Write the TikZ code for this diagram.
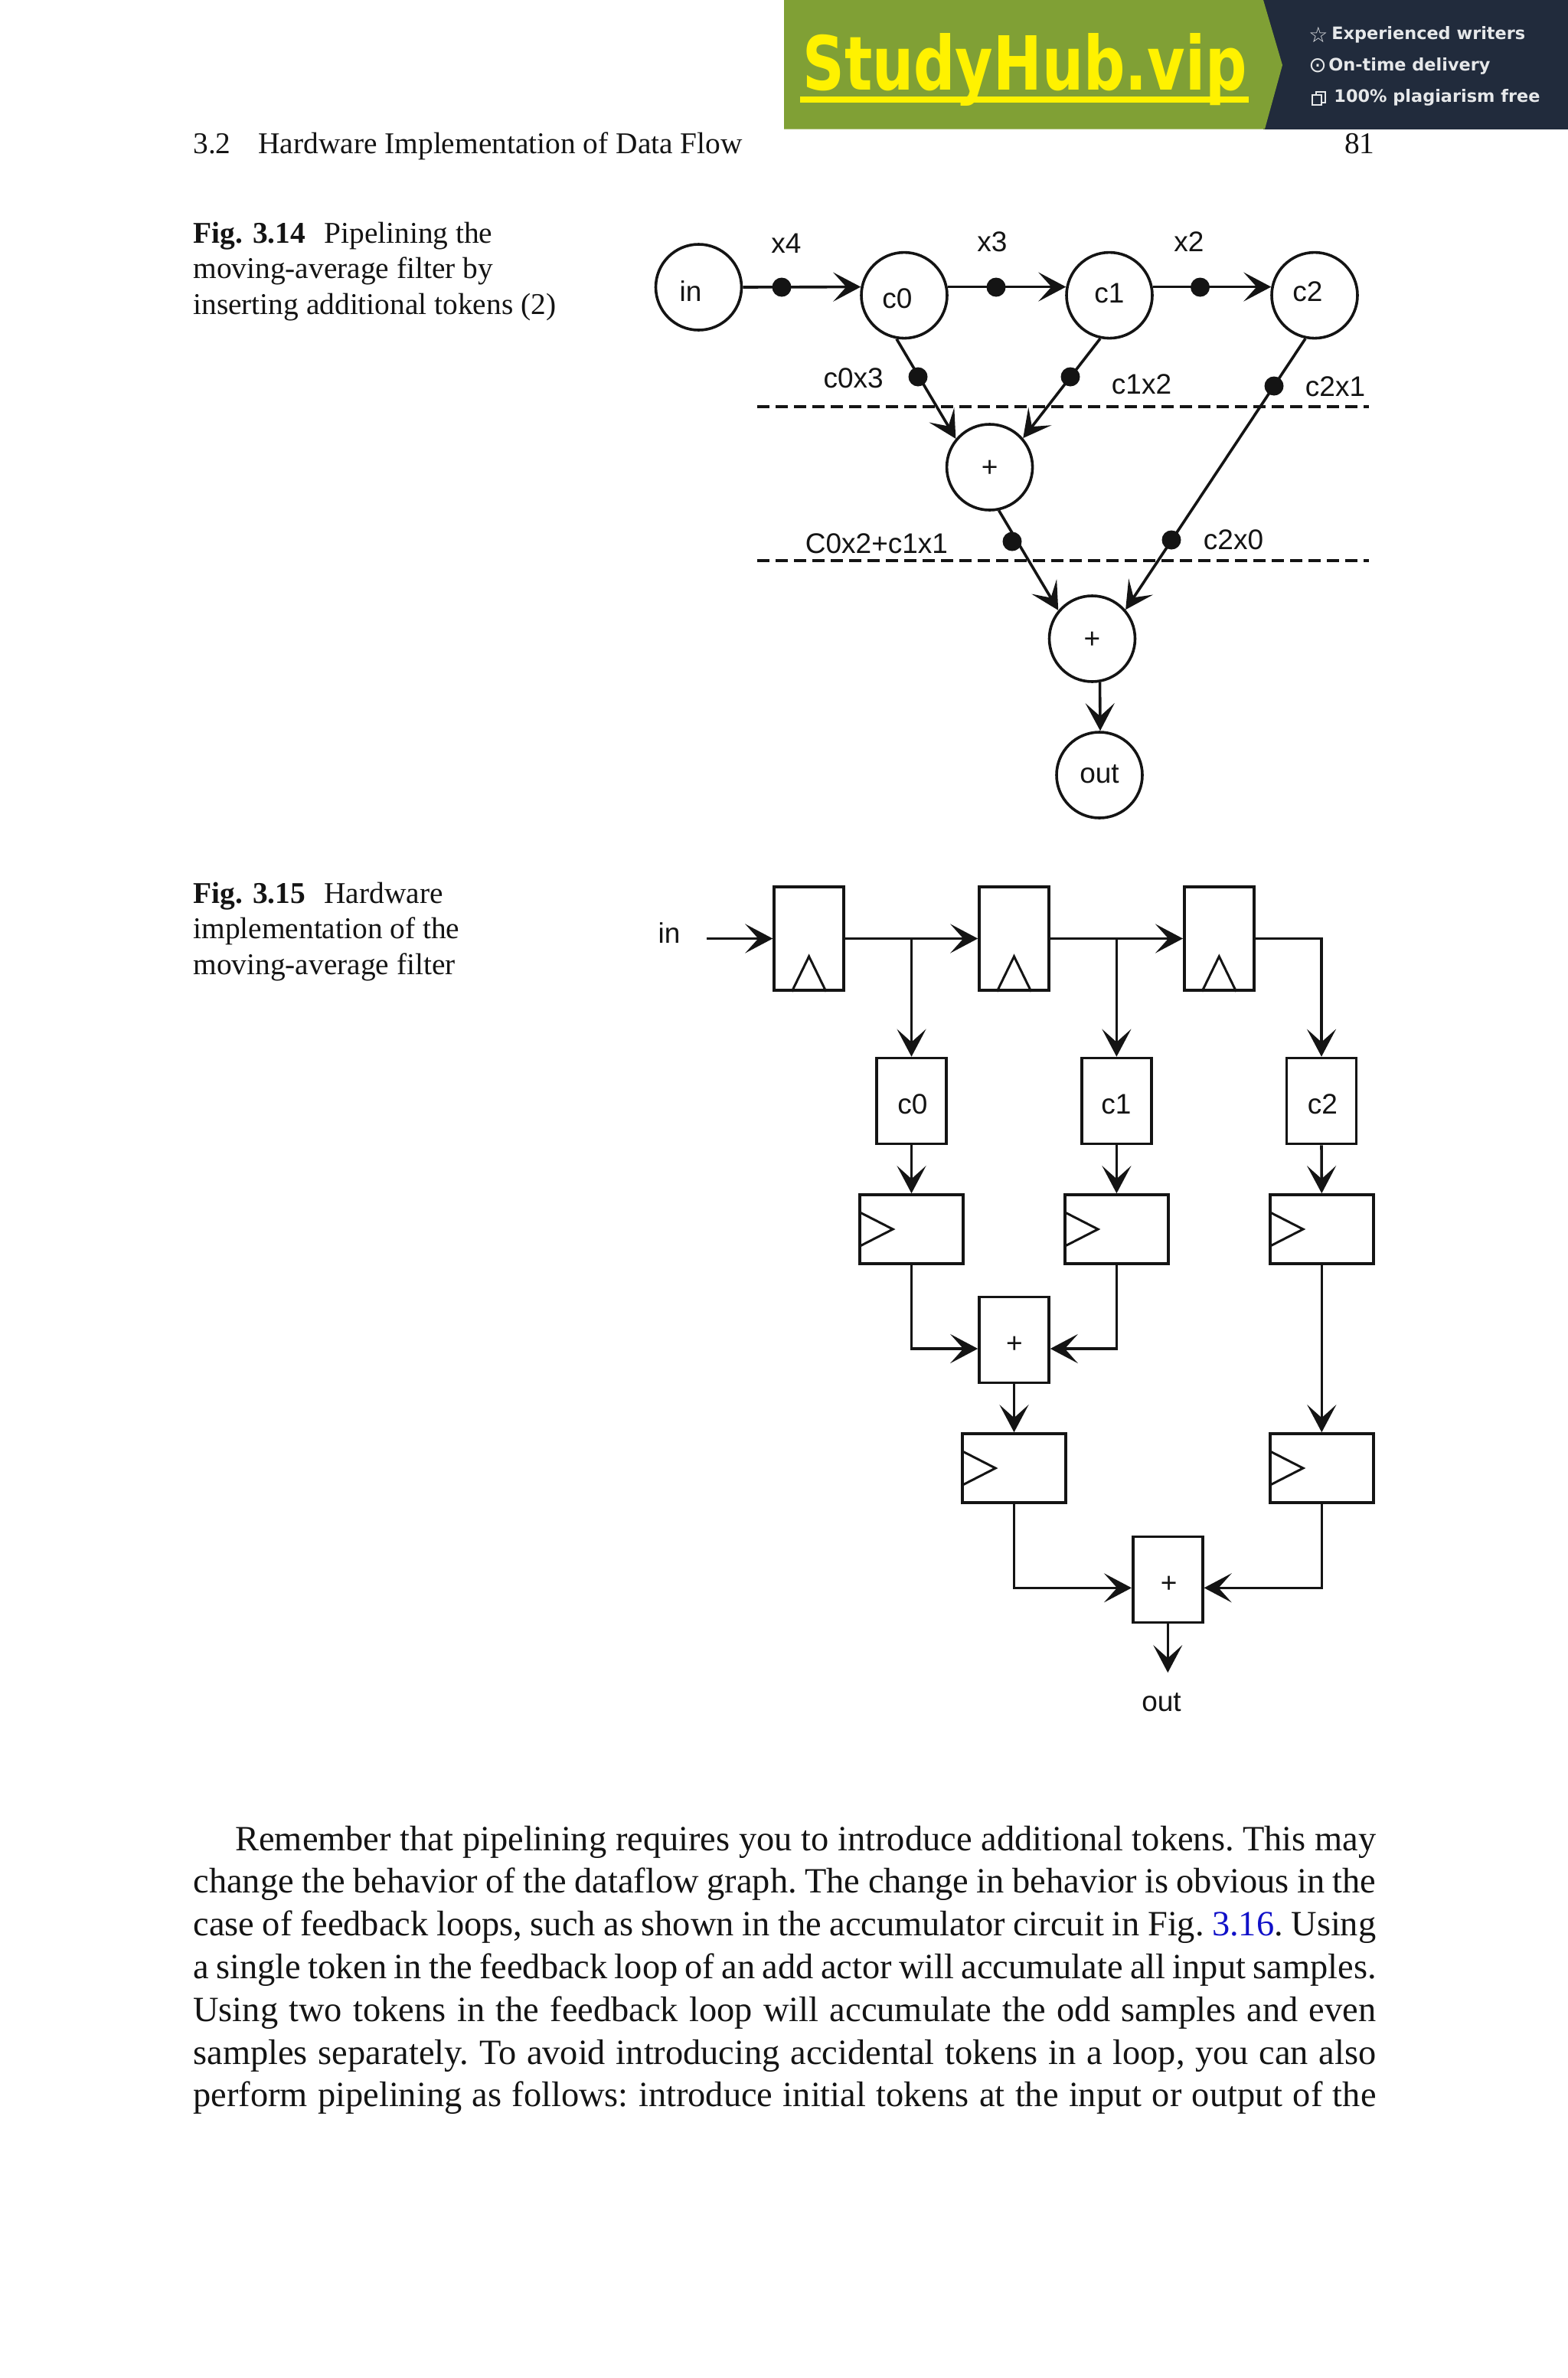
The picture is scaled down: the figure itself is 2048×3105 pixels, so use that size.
\documentclass[tikz,border=0pt]{standalone}
\usepackage{fontspec}
\setmainfont{Liberation Serif}
\newfontfamily\arialf{Liberation Sans}
\newfontfamily\dejan{DejaVu Sans}
\newcommand{\dejab}{\dejan\bfseries}
\usetikzlibrary{arrows.meta}
\definecolor{bgreen}{HTML}{80A035}
\definecolor{bdark}{HTML}{212B3C}
\definecolor{byellow}{HTML}{FFF200}
\definecolor{blight}{HTML}{E6E8EA}
\definecolor{linkblue}{HTML}{1010C8}
\definecolor{ink}{HTML}{141414}
\newcommand{\J}[1]{\hbox to 772.5pt{\frenchspacing #1}}
\tikzset{
  wire/.style={draw=ink,line width=1.8pt},
  arr/.style={wire,-{Stealth[length=18pt,width=19pt,inset=8.5pt]}},
  actor/.style={circle,draw=ink,line width=1.8pt,minimum size=56pt,inner sep=0pt,fill=none},
  tok/.style={circle,fill=ink,minimum size=12.5pt,inner sep=0pt},
  lab/.style={font=\arialf\fontsize{18.5pt}{20pt}\selectfont,text=ink,inner sep=0pt},
  plusl/.style={font=\arialf\fontsize{18.5pt}{20pt}\selectfont,text=ink,inner sep=0pt},
  cut/.style={draw=ink,line width=1.6pt,dash pattern=on 8pt off 4pt},
  ffv/.style={rectangle,draw=ink,line width=1.8pt,minimum width=45.5pt,minimum height=67.5pt,inner sep=0pt},
  ffh/.style={rectangle,draw=ink,line width=1.8pt,minimum width=67.5pt,minimum height=45pt,inner sep=0pt},
  opb/.style={rectangle,draw=ink,line width=1.8pt,minimum width=45.5pt,minimum height=56pt,inner sep=0pt},
  clk/.style={draw=ink,line width=1.5pt},
  captext/.style={font=\fontsize{19.7pt}{23.2pt}\selectfont,text=ink,inner sep=0pt,anchor=base west},
  bodyl/.style={font=\fontsize{23.2pt}{27.9pt}\selectfont,text=ink,inner sep=0pt,anchor=base west},
  bann/.style={font=\dejab\fontsize{11.2pt}{14pt}\selectfont,text=blight,inner sep=0pt,anchor=west},
  bicon/.style={font=\dejan\fontsize{14pt}{16pt}\selectfont,text=blight,inner sep=0pt,anchor=center},
}
\begin{document}
\begin{tikzpicture}[x=0.5pt,y=-0.5pt]
\useasboundingbox[fill=white] (0,0) rectangle (2048,3105);
% banner
\fill[bdark] (1650,0) rectangle (2048,168.5);
\fill[bgreen] (1024,0) -- (1650,0) -- (1675,85) -- (1652,168.5) -- (1024,168.5) -- cycle;
\node[inner sep=0pt,anchor=base west,text=byellow] (brand) at (1048,117) {\resizebox{290pt}{37pt}{\dejab\fontsize{48pt}{50pt}\selectfont StudyHub.vip}};
\fill[byellow] (1045,126) rectangle (1631,134);
\node[bicon] (s1) at (1722,45) {☆};
\node[bann] (t1) at (1739,45) {Experienced writers};
\node[bicon] (s2) at (1721,86) {⊙};
\node[bann] (t2) at (1735,86) {On-time delivery};
\draw[blight,line width=0.9pt] (1719,120) rectangle (1731,134);
\draw[blight,line width=0.9pt,fill=bdark] (1714,124) rectangle (1726,137);
\node[bann] (t3) at (1742,127) {100\% plagiarism free};
% header
\node[captext] (hd1) at (252,200) {3.2};
\node[captext] (hd2) at (337,200) {Hardware Implementation of Data Flow};
\node[captext,anchor=base east] (pg) at (1796,200) {81};
% captions
\node[captext] (c14a) at (252,317) {\textbf{Fig. 3.14}\hspace{0.62em}Pipelining the};
\node[captext] (c14b) at (252,363) {moving-average filter by};
\node[captext] (c14c) at (252,410) {inserting additional tokens (2)};
\node[captext] (c15a) at (252,1179) {\textbf{Fig. 3.15}\hspace{0.62em}Hardware};
\node[captext] (c15b) at (252,1225) {implementation of the};
\node[captext] (c15c) at (252,1272) {moving-average filter};
% Fig 3.14
\node[actor] (in) at (912.5,375) {};
\node[actor] (c0) at (1181,385.6) {};
\node[actor] (c1) at (1449,385.6) {};
\node[actor] (c2) at (1717,385.6) {};
\node[actor] (p1) at (1292.6,610) {};
\node[actor] (p2) at (1426.5,834) {};
\node[actor] (o) at (1436,1012) {};
\node[lab] (lin) at (902,380) {in};
\node[lab] (lc0) at (1172,390) {c0};
\node[lab] (lc1) at (1449,382.5) {c1};
\node[lab] (lc2) at (1708,381) {c2};
\node[plusl] (lp1) at (1292.6,612) {+};
\node[plusl] (lp2) at (1426.5,836) {+};
\node[lab] (lo) at (1436,1011) {out};
\node[lab] (x4) at (1027,318) {x4};
\node[lab] (x3) at (1296,315.5) {x3};
\node[lab] (x2) at (1553,315.5) {x2};
\node[lab] (c0x3) at (1114.6,494) {c0x3};
\node[lab] (c1x2) at (1491,501.7) {c1x2};
\node[lab] (c2x1) at (1744,505) {c2x1};
\node[lab] (sum) at (1145,710) {C0x2+c1x1};
\node[lab] (c2x0) at (1611,705) {c2x0};
\coordinate (ca) at (989,531); \coordinate (cb) at (1787.5,531);
\coordinate (cc) at (989,732); \coordinate (cd) at (1787.5,732);
\draw[cut] (ca) -- (cb);
\draw[cut] (cc) -- (cd);
\draw[arr] (in.0) -- (c0.169);
\draw[arr] (c0.11) -- (c1.169);
\draw[arr] (c1.11) -- (c2.169);
\draw[arr] (c0.260) -- (p1.140);
\draw[arr] (c1.258) -- (p1.41);
\draw[arr] (c2.258) -- (p2.41.5);
\draw[arr] (p1.282) -- (p2.140.6);
\draw[arr] (p2.280) -- (o.89);
\node[tok] (d1) at (1021,375) {};
\node[tok] (d2) at (1301,375) {};
\node[tok] (d3) at (1567.5,375) {};
\node[tok] (d4) at (1199,492) {};
\node[tok] (d5) at (1398,492) {};
\node[tok] (d6) at (1664,504) {};
\node[tok] (d7) at (1322,707) {};
\node[tok] (d8) at (1530,705) {};
% Fig 3.15
\node[ffv] (fa) at (1056.6,1225.5) {};
\node[ffv] (fb) at (1324.5,1225.5) {};
\node[ffv] (fc) at (1592.3,1225.5) {};
\foreach \n in {fa,fb,fc}
  \draw[clk] ([xshift=-11.2pt]\n.south) -- ([yshift=23pt]\n.south) -- ([xshift=11.2pt]\n.south);
\node[lab] (lin2) at (874,1218) {in};
\coordinate (src) at (923,1225.5);
\coordinate (b1) at (1190.5,1225.5);
\coordinate (b2) at (1458.4,1225.5);
\node[opb] (k0) at (1190.5,1437.5) {};
\node[opb] (k1) at (1458.4,1437.5) {};
\node[opb] (k2) at (1726,1437.5) {};
\node[lab] at (1192,1442) (lk0) {c0};
\node[lab] at (1458,1442) (lk1) {c1};
\node[lab] at (1727.5,1442) (lk2) {c2};
\node[ffh] (ha) at (1190.5,1605) {};
\node[ffh] (hb) at (1458.4,1605) {};
\node[ffh] (hc) at (1726.3,1605) {};
\node[ffh] (hd) at (1324.5,1917) {};
\node[ffh] (he) at (1726.3,1917) {};
\foreach \n in {ha,hb,hc,hd,he}
  \draw[clk] ([xshift=1pt,yshift=11pt]\n.west) -- ([xshift=22.5pt]\n.west) -- ([xshift=1pt,yshift=-11pt]\n.west);
\node[opb] (pa) at (1324.5,1749.6) {};
\node[opb] (pb) at (1525.3,2062.3) {};
\node[plusl] (lpa) at (1325,1756) {+};
\node[plusl] (lpb) at (1526.6,2069) {+};
\coordinate (snk) at (1525.3,2184);
\node[lab] (lout) at (1517,2223) {out};
\draw[arr] (src) -- (fa.west);
\draw[arr] (fa.east) -- (fb.west);
\draw[arr] (fb.east) -- (fc.west);
\draw[arr] (b1) -- (k0.north);
\draw[arr] (b2) -- (k1.north);
\draw[arr] (fc.east) -| (k2.north);
\draw[arr] (k0.south) -- (ha.north);
\draw[arr] (k1.south) -- (hb.north);
\draw[arr] (k2.south) -- (hc.north);
\draw[arr] (ha.south) |- ([yshift=-5.7pt]pa.west);
\draw[arr] (hb.south) |- ([yshift=-5.7pt]pa.east);
\draw[arr] (pa.south) -- (hd.north);
\draw[arr] (hc.south) -- (he.north);
\draw[arr] (hd.south) |- ([yshift=-5.5pt]pb.west);
\draw[arr] (he.south) |- ([yshift=-5.5pt]pb.east);
\draw[arr] (pb.south) -- (snk);
% body
\node[bodyl] (l1) at (252,2416) {\J{\hspace{27.5pt}Remember that pipelining requires you to introduce additional tokens. This may}};
\node[bodyl] (l2) at (252,2471.8) {\J{change the behavior of the dataflow graph. The change in behavior is obvious in the}};
\node[bodyl] (l3) at (252,2527.6) {\J{case of feedback loops, such as shown in the accumulator circuit in Fig.~\textcolor{linkblue}{3.16}. Using}};
\node[bodyl] (l4) at (252,2583.4) {\J{a single token in the feedback loop of an add actor will accumulate all input samples.}};
\node[bodyl] (l5) at (252,2639.2) {\J{Using two tokens in the feedback loop will accumulate the odd samples and even}};
\node[bodyl] (l6) at (252,2695) {\J{samples separately. To avoid introducing accidental tokens in a loop, you can also}};
\node[bodyl] (l7) at (252,2750.8) {\J{perform pipelining as follows: introduce initial tokens at the input or output of the}};
\end{tikzpicture}
\end{document}
